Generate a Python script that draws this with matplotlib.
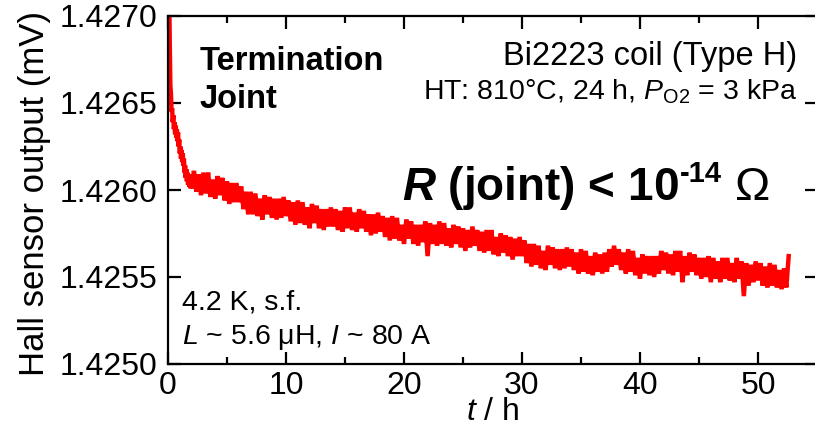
import matplotlib
matplotlib.use("Agg")
import matplotlib.pyplot as plt
import numpy as np

plt.rcParams['font.family'] = ['Liberation Sans', 'DejaVu Sans']
plt.rcParams['mathtext.fontset'] = 'custom'
plt.rcParams['mathtext.rm'] = 'Liberation Sans'
plt.rcParams['mathtext.it'] = 'Liberation Sans:italic'
plt.rcParams['mathtext.bf'] = 'Liberation Sans:bold'
plt.rcParams['mathtext.bfit'] = 'Liberation Sans:bold:italic'

# fast decay right after the current was trapped (h, mV)
t_early = [0.10, 0.15, 0.20, 0.25, 0.30, 0.35, 0.40, 0.45, 0.50, 0.55,
           0.60, 0.65, 0.70, 0.75, 0.80, 0.85, 0.90, 0.95, 1.00, 1.05,
           1.10, 1.15, 1.20, 1.25, 1.30, 1.35, 1.40, 1.45, 1.50, 1.55,
           1.60, 1.65, 1.70, 1.75, 1.80, 1.85, 1.90, 1.95, 2.00]
hall_early = [1.42715, 1.42683, 1.42660, 1.42655, 1.42645, 1.42647, 1.42639, 1.42643, 1.42635, 1.42639,
              1.42632, 1.42637, 1.42630, 1.42635, 1.42628, 1.42633, 1.42625, 1.42629, 1.42621, 1.42625,
              1.42618, 1.42623, 1.42616, 1.42621, 1.42614, 1.42618, 1.42610, 1.42614, 1.42607, 1.42612,
              1.42605, 1.42610, 1.42603, 1.42609, 1.42602, 1.42609, 1.42601, 1.42609, 1.42601]

# slow part, logged every 0.2 h from 2.2 h
t_start = 2.2
t_step = 0.2
hall_main = [
    1.42611, 1.42599, 1.42609, 1.42597, 1.42610,
    1.42598, 1.42610, 1.42596, 1.42606, 1.42595,
    1.42608, 1.42597, 1.42607, 1.42594, 1.42605,
    1.42592, 1.42604, 1.42593, 1.42604, 1.42593,
    1.42602, 1.42589, 1.42599, 1.42586, 1.42599,
    1.42586, 1.42598, 1.42585, 1.42595, 1.42583,
    1.42597, 1.42586, 1.42596, 1.42584, 1.42595,
    1.42583, 1.42595, 1.42584, 1.42596, 1.42585,
    1.42594, 1.42582, 1.42593, 1.42580, 1.42594,
    1.42581, 1.42593, 1.42580, 1.42590, 1.42578,
    1.42592, 1.42581, 1.42591, 1.42578, 1.42589,
    1.42577, 1.42589, 1.42579, 1.42590, 1.42579,
    1.42589, 1.42577, 1.42588, 1.42576, 1.42590,
    1.42578, 1.42590, 1.42577, 1.42587, 1.42576,
    1.42589, 1.42578, 1.42588, 1.42576, 1.42586,
    1.42574, 1.42586, 1.42575, 1.42587, 1.42576,
    1.42585, 1.42573, 1.42584, 1.42571, 1.42585,
    1.42572, 1.42584, 1.42571, 1.42580, 1.42569,
    1.42583, 1.42572, 1.42582, 1.42569, 1.42580,
    1.42568, 1.42580, 1.42570, 1.42582, 1.42562,
    1.42581, 1.42569, 1.42580, 1.42568, 1.42582,
    1.42569, 1.42581, 1.42568, 1.42578, 1.42567,
    1.42580, 1.42569, 1.42579, 1.42567, 1.42578,
    1.42565, 1.42577, 1.42567, 1.42579, 1.42568,
    1.42577, 1.42565, 1.42576, 1.42564, 1.42577,
    1.42565, 1.42577, 1.42563, 1.42573, 1.42562,
    1.42575, 1.42564, 1.42574, 1.42562, 1.42573,
    1.42560, 1.42572, 1.42562, 1.42573, 1.42562,
    1.42571, 1.42558, 1.42569, 1.42556, 1.42569,
    1.42557, 1.42568, 1.42555, 1.42565, 1.42554,
    1.42568, 1.42557, 1.42567, 1.42555, 1.42566,
    1.42554, 1.42566, 1.42555, 1.42567, 1.42556,
    1.42566, 1.42554, 1.42564, 1.42552, 1.42566,
    1.42553, 1.42565, 1.42552, 1.42562, 1.42551,
    1.42564, 1.42553, 1.42563, 1.42552, 1.42564,
    1.42553, 1.42566, 1.42556, 1.42568, 1.42557,
    1.42566, 1.42554, 1.42564, 1.42552, 1.42566,
    1.42553, 1.42565, 1.42551, 1.42561, 1.42549,
    1.42563, 1.42552, 1.42562, 1.42551, 1.42562,
    1.42550, 1.42562, 1.42552, 1.42565, 1.42554,
    1.42564, 1.42552, 1.42563, 1.42551, 1.42565,
    1.42553, 1.42565, 1.42547, 1.42562, 1.42551,
    1.42564, 1.42553, 1.42563, 1.42551, 1.42561,
    1.42549, 1.42561, 1.42550, 1.42562, 1.42547,
    1.42561, 1.42549, 1.42559, 1.42547, 1.42561,
    1.42549, 1.42561, 1.42548, 1.42558, 1.42547,
    1.42561, 1.42549, 1.42559, 1.42539, 1.42558,
    1.42545, 1.42557, 1.42547, 1.42559, 1.42548,
    1.42558, 1.42545, 1.42556, 1.42544, 1.42558,
    1.42545, 1.42557, 1.42544, 1.42554, 1.42543,
    1.42555, 1.42544, 1.42562]

t_main = t_start + t_step * np.arange(len(hall_main))
t_all = np.concatenate([t_early, t_main])
hall_all = np.concatenate([hall_early, hall_main])

fig = plt.figure(figsize=(8.15, 4.28), dpi=100)
ax = fig.add_axes([168 / 815, 1 - 364 / 428, 649 / 815, 348 / 428])

ax.plot(t_all, hall_all, color='#ff0000', lw=3.2, solid_joinstyle='miter')

ax.set_xlim(0, 55)
ax.set_ylim(1.4250, 1.4270)
ax.set_xticks([0, 10, 20, 30, 40, 50])
ax.set_xticks([5, 15, 25, 35, 45], minor=True)
ax.set_yticks([1.4250, 1.4255, 1.4260, 1.4265, 1.4270])
ax.set_yticklabels(['1.4250', '1.4255', '1.4260', '1.4265', '1.4270'])

for s in ax.spines.values():
    s.set_linewidth(1.6)
ax.tick_params(which='both', direction='in', top=True, right=True, width=1.6)
ax.tick_params(which='major', length=9, labelsize=23)
ax.tick_params(which='minor', length=5)
ax.tick_params(axis='x', pad=5)
ax.tick_params(axis='y', pad=8)

ax.set_xlabel(r'$t$ / h', fontsize=23)
ax.xaxis.set_label_coords(0.5, -0.095)
ax.set_ylabel('Hall sensor output (mV)', fontsize=25)
ax.yaxis.set_label_coords(-0.18, 0.49)

ax.text(0.049, 0.845, 'Termination', transform=ax.transAxes, fontsize=23.5, fontweight='bold')
ax.text(0.049, 0.736, 'Joint', transform=ax.transAxes, fontsize=23.5, fontweight='bold')
ax.text(0.969, 0.859, 'Bi2223 coil (Type H)', transform=ax.transAxes, fontsize=23.5, ha='right')
ax.text(0.969, 0.759, r'HT: 810°C, 24 h, $P_{\mathrm{O2}}$ = 3 kPa', transform=ax.transAxes,
        fontsize=20.5, ha='right')

# R (joint) < 10^-14 Ohm, built from pieces so the exponent keeps a short hyphen
r1 = ax.text(0.3606, 0.471, r'$\mathbfit{R}$ (joint) < 10', transform=ax.transAxes,
             fontsize=33, fontweight='bold')
r2 = ax.annotate('-14', xy=(1, 0.522), xycoords=(r1, 'axes fraction'), xytext=(1, 0),
                 textcoords='offset points', fontsize=21, fontweight='bold', va='baseline')
ax.annotate('Ω', xy=(1, 0.471), xycoords=(r2, 'axes fraction'), xytext=(9, 0),
            textcoords='offset points', fontsize=34, va='baseline')

ax.text(0.0216, 0.158, '4.2 K, s.f.', transform=ax.transAxes, fontsize=20.5)
ax.text(0.0216, 0.0575, r'$L$ ~ 5.6 μH, $I$ ~ 80 A', transform=ax.transAxes, fontsize=20.5)

fig.savefig('out.png', dpi=100)
